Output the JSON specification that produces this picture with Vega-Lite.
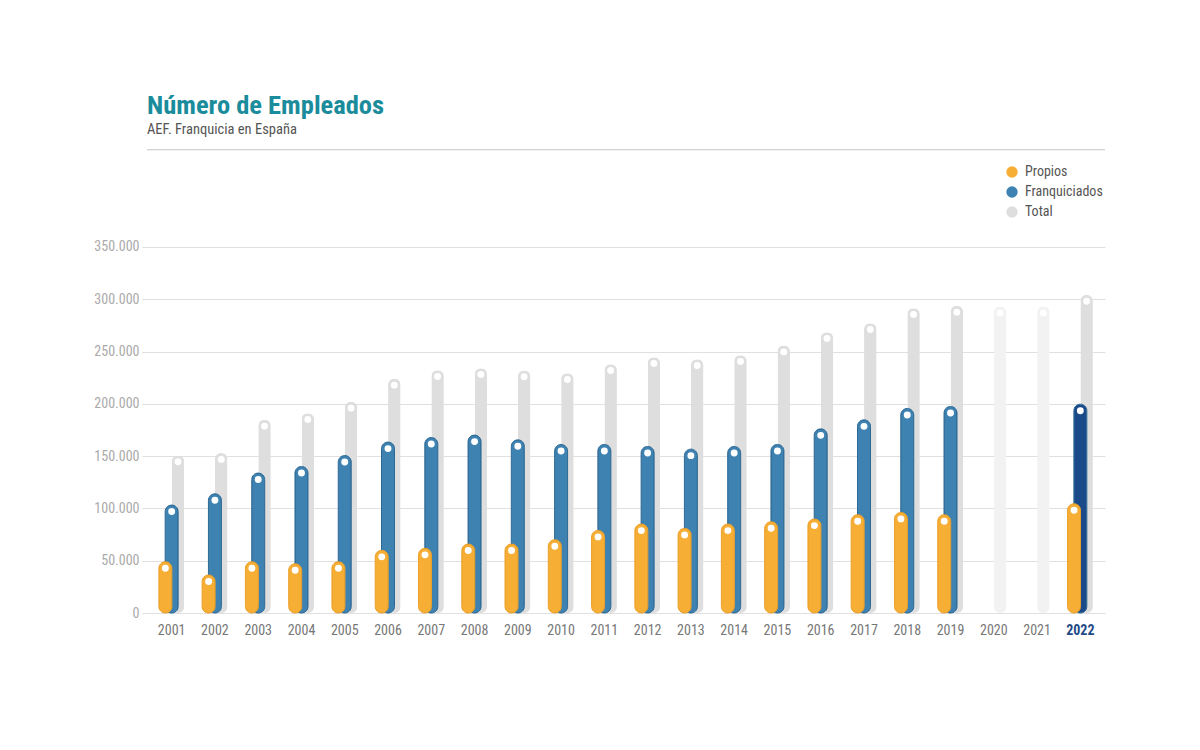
{
  "$schema": "https://vega.github.io/schema/vega-lite/v6.json",
  "autosize": {"type": "none"},
  "padding": {"left": 147, "top": 149, "right": 95, "bottom": 137},
  "width": 958,
  "height": 464,
  "background": "white",
  "config": {"view": {"stroke": null}},
  "title": {
    "text": "Número de Empleados",
    "subtitle": "AEF. Franquicia en España",
    "anchor": "start",
    "frame": "group",
    "font": "Liberation Sans Narrow, Roboto Condensed, Arial Narrow, sans-serif",
    "fontSize": 26.5,
    "fontWeight": "bold",
    "color": "#1a8c9b",
    "subtitleFont": "Liberation Sans Narrow, Roboto Condensed, Arial Narrow, sans-serif",
    "subtitleFontSize": 14.5,
    "subtitleColor": "#555555",
    "subtitlePadding": 3,
    "offset": 13
  },
  "data": {
    "values": [
      {"year": "2001", "series": "Total", "value": 150700},
      {"year": "2001", "series": "Franquiciados", "value": 103200},
      {"year": "2001", "series": "Propios", "value": 49000},
      {"year": "2002", "series": "Total", "value": 152900},
      {"year": "2002", "series": "Franquiciados", "value": 114000},
      {"year": "2002", "series": "Propios", "value": 36300},
      {"year": "2003", "series": "Total", "value": 184700},
      {"year": "2003", "series": "Franquiciados", "value": 133800},
      {"year": "2003", "series": "Propios", "value": 49000},
      {"year": "2004", "series": "Total", "value": 191100},
      {"year": "2004", "series": "Franquiciados", "value": 140100},
      {"year": "2004", "series": "Propios", "value": 47100},
      {"year": "2005", "series": "Total", "value": 201900},
      {"year": "2005", "series": "Franquiciados", "value": 150600},
      {"year": "2005", "series": "Propios", "value": 49000},
      {"year": "2006", "series": "Total", "value": 223900},
      {"year": "2006", "series": "Franquiciados", "value": 163400},
      {"year": "2006", "series": "Propios", "value": 59900},
      {"year": "2007", "series": "Total", "value": 232200},
      {"year": "2007", "series": "Franquiciados", "value": 167800},
      {"year": "2007", "series": "Propios", "value": 61800},
      {"year": "2008", "series": "Total", "value": 234100},
      {"year": "2008", "series": "Franquiciados", "value": 170100},
      {"year": "2008", "series": "Propios", "value": 65900},
      {"year": "2009", "series": "Total", "value": 231900},
      {"year": "2009", "series": "Franquiciados", "value": 165600},
      {"year": "2009", "series": "Propios", "value": 65900},
      {"year": "2010", "series": "Total", "value": 229300},
      {"year": "2010", "series": "Franquiciados", "value": 161200},
      {"year": "2010", "series": "Propios", "value": 70100},
      {"year": "2011", "series": "Total", "value": 237900},
      {"year": "2011", "series": "Franquiciados", "value": 161200},
      {"year": "2011", "series": "Propios", "value": 79000},
      {"year": "2012", "series": "Total", "value": 244600},
      {"year": "2012", "series": "Franquiciados", "value": 159300},
      {"year": "2012", "series": "Propios", "value": 85000},
      {"year": "2013", "series": "Total", "value": 242700},
      {"year": "2013", "series": "Franquiciados", "value": 156700},
      {"year": "2013", "series": "Propios", "value": 80900},
      {"year": "2014", "series": "Total", "value": 246500},
      {"year": "2014", "series": "Franquiciados", "value": 159300},
      {"year": "2014", "series": "Propios", "value": 85000},
      {"year": "2015", "series": "Total", "value": 255700},
      {"year": "2015", "series": "Franquiciados", "value": 161200},
      {"year": "2015", "series": "Propios", "value": 87300},
      {"year": "2016", "series": "Total", "value": 268500},
      {"year": "2016", "series": "Franquiciados", "value": 176100},
      {"year": "2016", "series": "Propios", "value": 89800},
      {"year": "2017", "series": "Total", "value": 277100},
      {"year": "2017", "series": "Franquiciados", "value": 184700},
      {"year": "2017", "series": "Propios", "value": 94000},
      {"year": "2018", "series": "Total", "value": 291400},
      {"year": "2018", "series": "Franquiciados", "value": 195600},
      {"year": "2018", "series": "Propios", "value": 96200},
      {"year": "2019", "series": "Total", "value": 293700},
      {"year": "2019", "series": "Franquiciados", "value": 197500},
      {"year": "2019", "series": "Propios", "value": 94000},
      {"year": "2020", "series": "Total", "value": 293000},
      {"year": "2021", "series": "Total", "value": 293000},
      {"year": "2022", "series": "Total", "value": 304200},
      {"year": "2022", "series": "Franquiciados", "value": 199700},
      {"year": "2022", "series": "Propios", "value": 104500}
    ]
  },
  "encoding": {
    "x": {
      "field": "year",
      "type": "nominal",
      "title": null,
      "scale": {"paddingInner": 0, "paddingOuter": 0.07},
      "axis": {
        "labelAngle": 0,
        "domain": false,
        "ticks": false,
        "labelPadding": 10,
        "labelFontSize": 14,
        "labelFont": "Liberation Sans Narrow, Roboto Condensed, Arial Narrow, sans-serif",
        "labelColor": {"condition": {"test": "datum.value == '2022'", "value": "#1e4a86"}, "value": "#777777"},
        "labelFontWeight": {"condition": {"test": "datum.value == '2022'", "value": "bold"}, "value": "normal"}
      }
    },
    "y": {
      "field": "value",
      "type": "quantitative",
      "title": null,
      "scale": {"domain": [0, 443700], "nice": false},
      "axis": {
        "values": [0, 50000, 100000, 150000, 200000, 250000, 300000, 350000],
        "labelExpr": "replace(format(datum.value, ','), regexp(',', 'g'), '.')",
        "domain": false,
        "ticks": true,
        "tickSize": 5,
        "tickColor": "#dddddd",
        "labelPadding": 3,
        "labelFontSize": 14,
        "labelFont": "Liberation Sans Narrow, Roboto Condensed, Arial Narrow, sans-serif",
        "labelColor": "#aaaaaa",
        "grid": true,
        "gridColor": "#e0e0e0",
        "gridWidth": 1
      }
    }
  },
  "layer": [
    {
      "data": {"values": [{"value": 443000}]},
      "mark": {"type": "rule", "color": "#c4c4c4", "strokeWidth": 1.2},
      "encoding": {"x": null}
    },
    {
      "transform": [{"filter": "datum.series == 'Total'"}],
      "mark": {"type": "bar", "width": 12.5, "xOffset": 6.3, "cornerRadius": 6.25},
      "encoding": {
        "color": {
          "condition": {"test": "datum.year == '2020' || datum.year == '2021'", "value": "#f2f2f2"},
          "field": "series",
          "type": "nominal",
          "scale": {"domain": ["Propios", "Franquiciados", "Total"], "range": ["#f6ae35", "#3e82b2", "#dedede"]},
          "legend": {
            "title": null,
            "orient": "none",
            "legendX": 858,
            "legendY": 16,
            "symbolType": "circle",
            "symbolSize": 130,
            "symbolStrokeWidth": 0,
            "labelFontSize": 14,
            "labelFont": "Liberation Sans Narrow, Roboto Condensed, Arial Narrow, sans-serif",
            "labelColor": "#555555",
            "rowPadding": 6,
            "labelOffset": 6
          }
        }
      }
    },
    {
      "transform": [{"filter": "datum.series == 'Franquiciados'"}],
      "mark": {"type": "bar", "width": 13, "xOffset": 0, "cornerRadius": 6.5, "stroke": "#2d6894", "strokeWidth": 1},
      "encoding": {
        "color": {
          "condition": {"test": "datum.year == '2022'", "value": "#1b4a8a"},
          "field": "series",
          "type": "nominal"
        }
      }
    },
    {
      "transform": [{"filter": "datum.series == 'Propios'"}],
      "mark": {"type": "bar", "width": 13, "xOffset": -6.3, "cornerRadius": 6.5, "stroke": "#eba02a", "strokeWidth": 1},
      "encoding": {
        "color": {"field": "series", "type": "nominal"}
      }
    },
    {
      "transform": [{"filter": "datum.series == 'Total'"}],
      "mark": {"type": "circle", "xOffset": 6.3, "yOffset": 6.3, "size": 48, "fill": "white", "opacity": 1},
      "encoding": {}
    },
    {
      "transform": [{"filter": "datum.series == 'Franquiciados'"}],
      "mark": {"type": "circle", "xOffset": 0, "yOffset": 6.5, "size": 48, "fill": "white", "opacity": 1},
      "encoding": {}
    },
    {
      "transform": [{"filter": "datum.series == 'Propios'"}],
      "mark": {"type": "circle", "xOffset": -6.3, "yOffset": 6.5, "size": 48, "fill": "white", "opacity": 1},
      "encoding": {}
    }
  ]
}
